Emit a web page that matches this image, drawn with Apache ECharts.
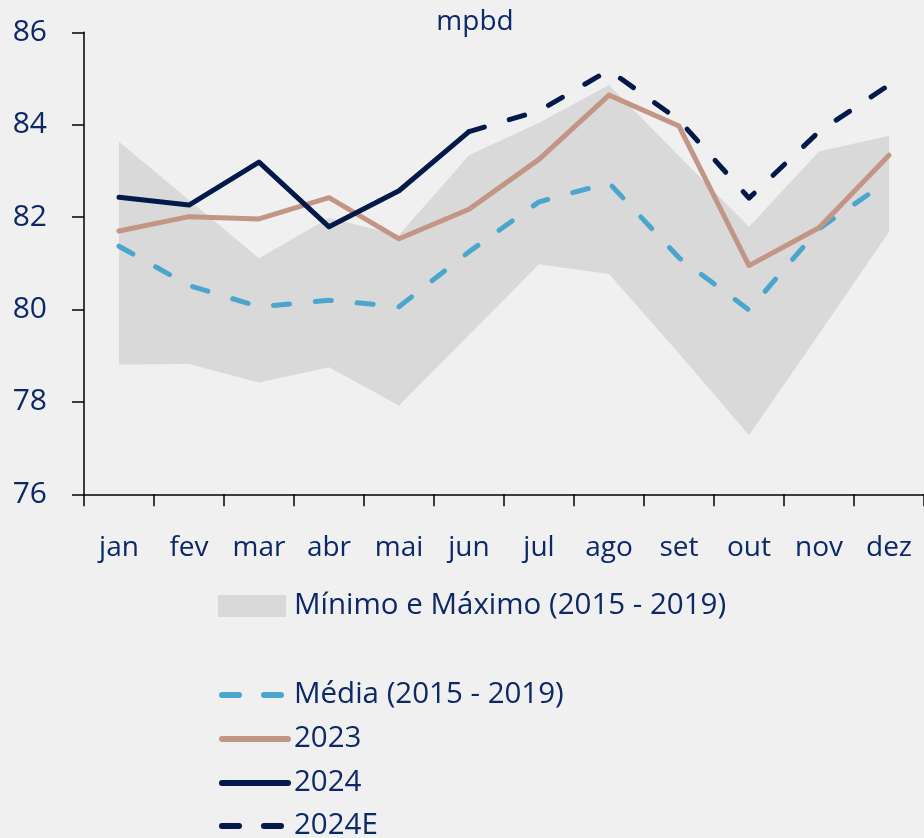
<!DOCTYPE html>
<html>
<head>
<meta charset="utf-8">
<script src="https://cdn.jsdelivr.net/npm/echarts@6/dist/echarts.min.js"></script>
<style>
  html, body { margin: 0; padding: 0; background: #f0f0f0; }
  #chart { width: 924px; height: 838px; }
</style>
</head>
<body>
<div id="chart"></div>
<script>
// Monthly oil supply, mpbd
var months = ['jan', 'fev', 'mar', 'abr', 'mai', 'jun', 'jul', 'ago', 'set', 'out', 'nov', 'dez'];

// 2015-2019 range
var rangeMin = [78.81, 78.82, 78.42, 78.75, 77.92, 79.45, 80.98, 80.77, 79.05, 77.28, 79.47, 81.68];
var rangeMax = [83.63, 82.37, 81.11, 81.98, 81.61, 83.34, 84.04, 84.86, 83.32, 81.79, 83.42, 83.76];

var media2015_2019 = [81.37, 80.52, 80.06, 80.20, 80.06, 81.25, 82.33, 82.74, 81.12, 79.99, 81.75, 82.80];
var y2023 = [81.70, 82.01, 81.96, 82.42, 81.53, 82.17, 83.25, 84.64, 83.97, 80.95, 81.77, 83.34];
var y2024 = [82.43, 82.26, 83.19, 81.79, 82.57, 83.85, null, null, null, null, null, null];
var y2024E = [null, null, null, null, null, 83.85, 84.30, 85.18, 84.10, 82.41, 83.85, 84.86];

var yTicks = { min: 76, max: 86, interval: 2 };

var textColor = '#0c2866';
var fontFamily = '"Open Sans", "Noto Sans", sans-serif';

var rangeSpan = rangeMax.map(function (v, i) { return +(v - rangeMin[i]).toFixed(2); });

var chart = echarts.init(document.getElementById('chart'), null, { renderer: 'canvas' });

var dash = [16, 26];
var legendDash = [17, 25];

var legendText = { color: textColor, fontSize: 29.5, fontFamily: fontFamily, lineHeight: 30, padding: [0, 0, 0, 1] };

// one legend block per line entry, stacked vertically under the chart
function lineLegend(name, centerY, dashed, color) {
  return {
    data: [name],
    left: 219,
    top: centerY - 15,
    padding: 0,
    itemWidth: 66,
    itemHeight: 14,
    itemStyle: { opacity: 0 },
    lineStyle: { color: color, width: 6, cap: 'round', type: dashed ? legendDash : 'solid' },
    textStyle: legendText
  };
}

chart.setOption({
  backgroundColor: '#f0f0f0',
  animation: false,
  textStyle: { fontFamily: fontFamily, color: textColor },
  title: {
    text: 'mpbd',
    left: 475,
    top: 8,
    padding: 0,
    textAlign: 'center',
    textStyle: { fontFamily: fontFamily, color: textColor, fontSize: 28, fontWeight: 'normal' }
  },
  grid: { left: 84, right: 0, top: 32.3, bottom: 343.7, containLabel: false },
  xAxis: {
    type: 'category',
    data: months,
    boundaryGap: true,
    axisLine: { lineStyle: { color: '#000', width: 1.5 } },
    axisTick: { show: true, length: 12, inside: false, alignWithLabel: false, lineStyle: { color: '#000', width: 1.5 } },
    axisLabel: { color: textColor, fontSize: 28, fontFamily: fontFamily, margin: 40, interval: 0 },
    splitLine: { show: false }
  },
  yAxis: {
    type: 'value',
    min: yTicks.min,
    max: yTicks.max,
    interval: yTicks.interval,
    axisLine: { show: true, lineStyle: { color: '#000', width: 1.5 } },
    axisTick: { show: true, length: 12, lineStyle: { color: '#000', width: 1.5 } },
    axisLabel: { color: textColor, fontSize: 30, fontFamily: fontFamily, margin: 37 },
    splitLine: { show: false }
  },
  legend: [
    {
      data: ['Mínimo e Máximo (2015 - 2019)'],
      left: 218,
      top: 591,
      padding: 0,
      icon: 'rect',
      itemWidth: 68,
      itemHeight: 22,
      itemStyle: { color: '#d9d9d9' },
      textStyle: { color: textColor, fontSize: 29.5, fontFamily: fontFamily, lineHeight: 30, padding: [0, 0, 0, 3] }
    },
    lineLegend('Média (2015 - 2019)', 695, true, '#4ba6cd'),
    lineLegend('2023', 739, false, '#c39584'),
    lineLegend('2024', 783, false, '#03194a'),
    lineLegend('2024E', 826, true, '#03194a')
  ],
  series: [
    {
      name: 'base',
      type: 'line',
      data: rangeMin,
      stack: 'range',
      symbol: 'none',
      lineStyle: { opacity: 0, width: 0 },
      silent: true,
      z: 1
    },
    {
      name: 'Mínimo e Máximo (2015 - 2019)',
      type: 'line',
      data: rangeSpan,
      stack: 'range',
      symbol: 'none',
      itemStyle: { color: '#d9d9d9' },
      lineStyle: { opacity: 0, width: 0 },
      areaStyle: { color: '#d9d9d9', opacity: 1 },
      silent: true,
      z: 1
    },
    {
      name: 'Média (2015 - 2019)',
      type: 'line',
      data: media2015_2019,
      symbol: 'none',
      itemStyle: { color: '#4ba6cd' },
      lineStyle: { color: '#4ba6cd', width: 5, type: dash, cap: 'round', join: 'round' },
      z: 2
    },
    {
      name: '2023',
      type: 'line',
      data: y2023,
      symbol: 'none',
      itemStyle: { color: '#c39584' },
      lineStyle: { color: '#c39584', width: 5, cap: 'round', join: 'round' },
      z: 3
    },
    {
      name: '2024',
      type: 'line',
      data: y2024,
      symbol: 'none',
      itemStyle: { color: '#03194a' },
      lineStyle: { color: '#03194a', width: 5, cap: 'round', join: 'round' },
      z: 4
    },
    {
      name: '2024E',
      type: 'line',
      data: y2024E,
      symbol: 'none',
      itemStyle: { color: '#03194a' },
      lineStyle: { color: '#03194a', width: 5, type: dash, cap: 'round', join: 'round' },
      z: 4
    }
  ]
});
</script>
</body>
</html>
